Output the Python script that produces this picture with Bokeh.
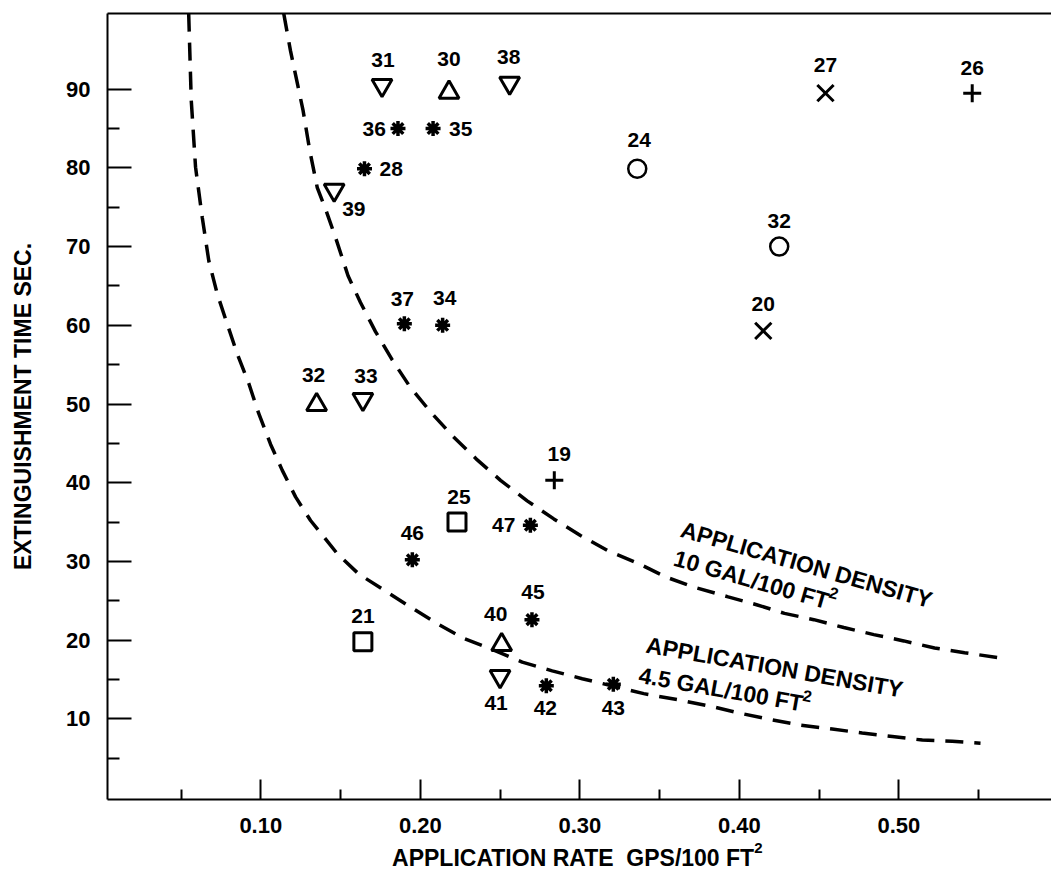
import math
from bokeh.plotting import figure
from bokeh.models import FixedTicker, PrintfTickFormatter, LinearAxis, Range1d, ColumnDataSource
from bokeh.core.properties import value
from bokeh.embed import file_html
from bokeh.resources import INLINE

# ---------------- data ----------------
# asterisk symbols
star_id = ["36", "35", "28", "37", "34", "47", "46", "45", "42", "43"]
star_rate = [0.186, 0.208, 0.165, 0.190, 0.214, 0.269, 0.195, 0.270, 0.279, 0.321]
star_time = [85.0, 85.0, 79.9, 60.2, 60.0, 34.6, 30.2, 22.6, 14.2, 14.4]

# inverted triangles
dtri_id = ["31", "38", "39", "33", "41"]
dtri_rate = [0.176, 0.256, 0.146, 0.164, 0.250]
dtri_time = [90.5, 90.8, 77.2, 50.6, 15.4]

# upright triangles
utri_id = ["30", "32", "40"]
utri_rate = [0.218, 0.135, 0.251]
utri_time = [89.6, 49.9, 19.4]

# squares
sq_id = ["25", "21"]
sq_rate = [0.223, 0.164]
sq_time = [35.0, 19.8]

# circles
circ_id = ["24", "32"]
circ_rate = [0.336, 0.425]
circ_time = [79.9, 70.0]

# x symbols
x_id = ["27", "20"]
x_rate = [0.454, 0.415]
x_time = [89.5, 59.3]

# plus symbols
plus_id = ["26", "19"]
plus_rate = [0.546, 0.284]
plus_time = [89.5, 40.3]

# dashed curve: application density 10 gal/100 ft2
dens10_rate = [0.1144, 0.1186, 0.1265, 0.1307, 0.1354, 0.1416, 0.1468, 0.1547, 0.1625,
               0.1719, 0.1824, 0.1935, 0.2064, 0.2205, 0.2357, 0.2503, 0.2670, 0.2837,
               0.3004, 0.3172, 0.3360, 0.3542, 0.3721, 0.3930, 0.4108, 0.4283, 0.4467,
               0.4655, 0.4843, 0.5031, 0.5224, 0.5412, 0.5680]
dens10_time = [99.6, 94.9, 87.3, 82.2, 77.5, 74.2, 71.2, 66.3, 62.9,
               59.2, 55.6, 52.2, 49.0, 45.9, 42.9, 40.3, 37.7, 35.4,
               33.3, 31.4, 29.8, 28.0, 26.7, 25.5, 24.5, 23.4, 22.6,
               21.6, 20.7, 19.9, 19.0, 18.4, 17.6]

# dashed curve: application density 4.5 gal/100 ft2
dens45_rate = [0.0548, 0.0564, 0.0591, 0.0633, 0.0674, 0.0727, 0.0789, 0.0852, 0.0925,
               0.0987, 0.1061, 0.1134, 0.1218, 0.1312, 0.1479, 0.1614, 0.1792, 0.1939,
               0.2106, 0.2273, 0.2440, 0.2639, 0.2827, 0.3015, 0.3401, 0.3621, 0.3820,
               0.4008, 0.4196, 0.4384, 0.4582, 0.4770, 0.4959, 0.5147, 0.5335, 0.5512]
dens45_time = [99.6, 88.6, 80.1, 73.7, 68.2, 64.0, 60.2, 56.4, 52.6,
               48.8, 44.9, 41.6, 38.2, 35.2, 31.0, 28.4, 26.1, 24.2,
               22.1, 20.2, 18.9, 17.2, 16.1, 15.1, 13.2, 12.4, 11.6,
               10.7, 9.9, 9.2, 8.7, 8.2, 7.75, 7.3, 7.15, 6.9]

# curve annotations (two lines each; "2" is drawn as a superscript)
note_text = ["APPLICATION DENSITY", "10 GAL/100 FT", "APPLICATION DENSITY", "4.5 GAL/100 FT"]
note_rate = [0.3637, 0.3594, 0.3418, 0.3372]
note_time = [34.14, 30.5, 19.44, 15.6]
note_angle_deg = [-16.0, -16.0, -10.0, -10.0]
sup_text = ["2", "2"]          # superscripts on lines 2 and 4

x_ticks = [0.10, 0.20, 0.30, 0.40, 0.50]
x_minor = [0.05, 0.15, 0.25, 0.35, 0.45, 0.55]
y_ticks = [10, 20, 30, 40, 50, 60, 70, 80, 90]
y_minor = [5, 15, 25, 35, 45, 55, 65, 75, 85]

NB = "\u00a0"
x_title = "APPLICATION RATE" + NB + NB + "GPS/100 FT" + NB + NB
x_title_sup = "2"
y_title = "EXTINGUISHMENT TIME SEC."

# ---------------- styling ----------------
FONT = "Liberation Sans"
label_style = {
    "star": [(-12, 0, "right"), (16, 0, "left"), (15, 0, "left"), (-2, -25, "center"),
             (2, -27, "center"), (-15, 0, "right"), (0, -27, "center"), (1, -28, "center"),
             (-1, 22, "center"), (0, 24, "center")],
    "dtri": [(1, -25, "center"), (-1, -26, "center"), (8, 19, "left"), (3, -23, "center"),
             (-4, 27, "center")],
    "utri": [(0, -33, "center"), (-3, -30, "center"), (-6, -31, "center")],
    "sq": [(2, -25, "center"), (0, -26, "center")],
    "circ": [(2, -29, "center"), (0, -26, "center")],
    "x": [(0, -28, "center"), (0, -27, "center")],
    "plus": [(0, -25, "center"), (5, -26, "center")],
}
# superscript offsets (screen px) relative to the anchors of lines 2 and 4
sup_offsets = [(155, 34), (164, 20)]
SUP_X_POS = 0.412    # horizontal place of the x-title superscript

p = figure(width=1051, height=890,
           x_range=Range1d(0.0039, 0.5957), y_range=Range1d(-0.25, 99.62),
           output_backend="svg", toolbar_location=None,
           min_border_left=107, min_border_right=0, min_border_top=13, min_border_bottom=91)
p.xgrid.visible = False
p.ygrid.visible = False
p.outline_line_color = None
p.background_fill_color = "white"
p.border_fill_color = "white"

for ax in (p.xaxis[0], p.yaxis[0]):
    ax.axis_line_width = 2
    ax.axis_line_color = "black"
    ax.major_tick_line_width = 2
    ax.minor_tick_line_width = 2
    ax.major_tick_out = 0
    ax.minor_tick_out = 0
    ax.major_label_text_font = FONT
    ax.major_label_text_font_style = "bold"
    ax.major_label_text_font_size = "22px"
    ax.major_label_text_color = "black"
    ax.axis_label_text_font = FONT
    ax.axis_label_text_font_style = "bold"
    ax.axis_label_text_font_size = "23px"
    ax.axis_label_text_color = "black"

p.xaxis.ticker = FixedTicker(ticks=x_ticks, minor_ticks=x_minor)
p.xaxis.formatter = PrintfTickFormatter(format="%.2f")
p.xaxis.major_tick_in = 20
p.xaxis.minor_tick_in = 10
p.xaxis.major_label_standoff = 18
p.xaxis.axis_label = x_title
p.xaxis.axis_label_standoff = 9

p.yaxis.ticker = FixedTicker(ticks=y_ticks, minor_ticks=y_minor)
p.yaxis.formatter = PrintfTickFormatter(format="%d")
p.yaxis.major_tick_in = 24
p.yaxis.minor_tick_in = 12
p.yaxis.major_label_standoff = 17
p.yaxis.axis_label = y_title
p.yaxis.axis_label_standoff = 27

top = LinearAxis(ticker=FixedTicker(ticks=[]), axis_line_width=2, axis_line_color="black",
                 major_tick_in=0, major_tick_out=0, minor_tick_in=0, minor_tick_out=0,
                 major_label_text_font_size="0px", major_label_standoff=0)
p.add_layout(top, "above")

# superscript "2" of the x-axis title, drawn as the only label of a bare extra axis
sup_axis = LinearAxis(ticker=FixedTicker(ticks=[SUP_X_POS], minor_ticks=[]),
                      major_label_overrides={SUP_X_POS: x_title_sup},
                      axis_line_color=None, major_tick_line_color=None,
                      minor_tick_line_color=None,
                      major_tick_in=0, major_tick_out=0, minor_tick_in=0, minor_tick_out=0,
                      major_label_standoff=-31, major_label_text_font=FONT,
                      major_label_text_font_style="bold", major_label_text_font_size="15px",
                      major_label_text_color="black")
p.add_layout(sup_axis, "below")

for rx, ty in ((dens10_rate, dens10_time), (dens45_rate, dens45_time)):
    p.line(rx, ty, line_color="black", line_width=3.5, line_dash="18 11")

series = [
    ("star", star_rate, star_time, star_id, "asterisk", 15, 3.5),
    ("dtri", dtri_rate, dtri_time, dtri_id, "inverted_triangle", 20, 3),
    ("utri", utri_rate, utri_time, utri_id, "triangle", 20, 3),
    ("sq", sq_rate, sq_time, sq_id, "square", 18, 3),
    ("circ", circ_rate, circ_time, circ_id, "circle", 18, 2.5),
    ("x", x_rate, x_time, x_id, "x", 23, 3),
    ("plus", plus_rate, plus_time, plus_id, "cross", 18, 3),
]
for key, rx, ty, ids, marker, size, lw in series:
    p.scatter(rx, ty, marker=marker, size=size, line_color="black", line_width=lw,
              fill_color=None)
    st = label_style[key]
    src = ColumnDataSource(dict(x=rx, y=ty, t=ids,
                                dx=[s[0] for s in st], dy=[s[1] for s in st],
                                al=[s[2] for s in st]))
    p.text(x="x", y="y", text="t", x_offset="dx", y_offset="dy", text_align="al",
           text_baseline="middle", source=src, text_font=value(FONT),
           text_font_style="bold", text_font_size="21px", text_color="black")

angles = [math.radians(d) for d in note_angle_deg]
nsrc = ColumnDataSource(dict(x=note_rate, y=note_time, t=note_text, a=angles))
p.text(x="x", y="y", text="t", angle="a", source=nsrc, text_align="left",
       text_baseline="alphabetic", text_font=value(FONT), text_font_style="bold",
       text_font_size="23px", text_color="black")

ssrc = ColumnDataSource(dict(x=[note_rate[1], note_rate[3]], y=[note_time[1], note_time[3]],
                             t=sup_text, a=[angles[1], angles[3]],
                             dx=[o[0] for o in sup_offsets], dy=[o[1] for o in sup_offsets]))
p.text(x="x", y="y", text="t", angle="a", x_offset="dx", y_offset="dy", source=ssrc,
       text_align="left", text_baseline="alphabetic", text_font=value(FONT),
       text_font_style="bold", text_font_size="16px", text_color="black")

open("out.html", "w").write(file_html(p, INLINE))
